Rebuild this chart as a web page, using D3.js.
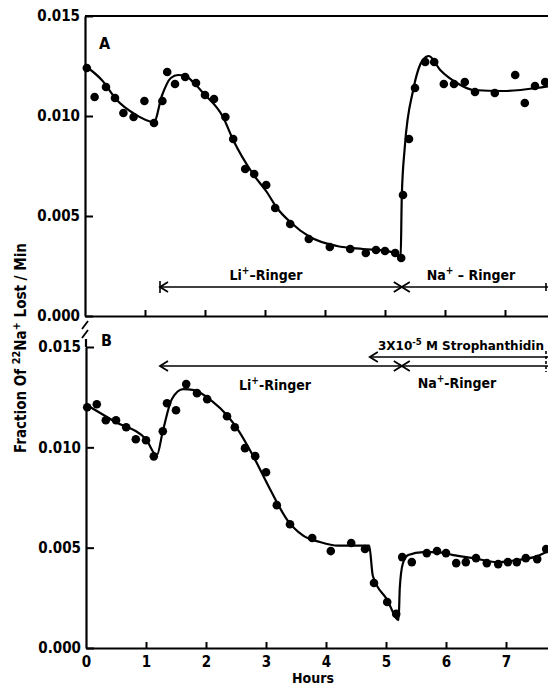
<!DOCTYPE html>
<html><head><meta charset="utf-8">
<script src="https://cdn.jsdelivr.net/npm/d3@7"></script>
<style>
html,body{margin:0;padding:0;background:#fff;}
svg text{font-family:"DejaVu Sans Condensed","Liberation Sans Narrow","DejaVu Sans",sans-serif;font-weight:bold;fill:#000;}
</style></head>
<body>
<script>
// ---- data ----
const yTicks = [0, 0.005, 0.010, 0.015];
const hourTicks = [0, 1, 2, 3, 4, 5, 6, 7];
// Panel A observed points [hours, fraction/min]
const pointsA = [[0.03,0.0124],[0.16,0.01095],[0.35,0.01145],[0.5,0.0109],[0.64,0.01015],[0.81,0.00995],[0.99,0.01075],[1.15,0.00965],[1.29,0.01075],[1.37,0.0122],[1.5,0.0116],[1.67,0.01195],[1.85,0.01165],[2.0,0.01105],[2.15,0.01085],[2.34,0.00995],[2.47,0.00885],[2.67,0.00735],[2.82,0.0071],[3.02,0.00655],[3.17,0.0054],[3.42,0.0046],[3.73,0.00385],[4.08,0.00345],[4.42,0.00335],[4.68,0.00315],[4.85,0.0033],[5.0,0.00325],[5.17,0.00315],[5.27,0.0029],[5.3,0.00605],[5.4,0.00885],[5.5,0.0114],[5.67,0.0127],[5.82,0.0127],[5.98,0.0116],[6.15,0.0116],[6.33,0.0117],[6.5,0.0112],[6.83,0.01115],[7.17,0.01205],[7.33,0.01065],[7.5,0.0115],[7.67,0.0117]];
// Panel A fitted curve
const curveA = [[0.03,0.01245],[0.28,0.0118],[0.53,0.0108],[0.8,0.01015],[1.15,0.0097],[1.28,0.0110],[1.43,0.0119],[1.55,0.01205],[1.68,0.0120],[1.8,0.0117],[1.97,0.01115],[2.3,0.00995],[2.47,0.0088],[2.8,0.0071],[3.03,0.0062],[3.2,0.0054],[3.42,0.0047],[3.75,0.00395],[4.2,0.0035],[4.63,0.00335],[5.03,0.00325],[5.2,0.0031],[5.26,0.0028],[5.28,0.006],[5.33,0.00845],[5.47,0.0113],[5.63,0.0128],[5.73,0.0130],[5.92,0.0123],[6.2,0.01165],[6.47,0.0113],[6.97,0.01125],[7.53,0.0114],[7.75,0.0115]];
// Panel B observed points
const pointsB = [[0.02,0.0120],[0.18,0.01215],[0.33,0.01135],[0.5,0.01135],[0.67,0.011],[0.83,0.0104],[1.0,0.01035],[1.13,0.00955],[1.28,0.0108],[1.35,0.0122],[1.5,0.01185],[1.67,0.01315],[1.85,0.0127],[2.02,0.0124],[2.35,0.01155],[2.48,0.011],[2.65,0.00996],[2.82,0.00956],[3.0,0.00876],[3.18,0.00712],[3.4,0.00617],[3.77,0.00548],[4.08,0.00483],[4.42,0.00523],[4.65,0.00493],[4.8,0.00324],[5.02,0.00229],[5.17,0.0017],[5.27,0.00453],[5.43,0.00428],[5.68,0.00473],[5.85,0.00483],[6.0,0.00473],[6.17,0.00423],[6.33,0.00428],[6.5,0.00448],[6.68,0.00423],[6.87,0.00418],[7.03,0.00428],[7.18,0.00428],[7.33,0.00448],[7.52,0.00443],[7.67,0.00493]];
// Panel B fitted curve
const curveB = [[0.02,0.0121],[0.5,0.01125],[1.0,0.0104],[1.18,0.0096],[1.28,0.0108],[1.43,0.0124],[1.62,0.0129],[1.8,0.01285],[2.1,0.0123],[2.35,0.0116],[2.55,0.0108],[2.78,0.0096],[3.07,0.0079],[3.35,0.0064],[3.62,0.0056],[3.9,0.00528],[4.2,0.0051],[4.72,0.0051],[4.78,0.0036],[5.02,0.0024],[5.21,0.0014],[5.23,0.0030],[5.28,0.0042],[5.37,0.00463],[5.62,0.00478],[5.85,0.00478],[6.12,0.00463],[6.45,0.00448],[6.85,0.00428],[7.18,0.00438],[7.52,0.00458],[7.75,0.0049]];
// Treatment periods (hours)
const liStart = 1.25, switchTime = 5.28, strophStart = 4.73;
// text pieces: [text, isSuperscript]
const titleParts = [["Fraction Of ",0],["22",1],["Na",0],["+",1],[" Lost / Min",0]];
const xTitle = "Hours";
const liPartsA = [["Li",0],["+",1],["–Ringer",0]];
const naPartsA = [["Na",0],["+",1],[" – Ringer",0]];
const liPartsB = [["Li",0],["+",1],["-Ringer",0]];
const naPartsB = [["Na",0],["+",1],["-Ringer",0]];
const strophParts = [["3X10",0],["-5",1],[" M Strophanthidin",0]];

// ---- drawing ----
const W = 548, H = 694;
const svg = d3.select("body").append("svg").attr("width", W).attr("height", H);

const xA = d3.scaleLinear().domain([0, 7.75]).range([85, 550]);
const xB = d3.scaleLinear().domain([0, 7.75]).range([86, 551]);
const yA = d3.scaleLinear().domain([0, 0.015]).range([316, 16]);
const yB = d3.scaleLinear().domain([0, 0.015]).range([648, 347]);

function styleAxis(g){
  g.select(".domain").attr("stroke","#000").attr("stroke-width",2.2);
  g.selectAll(".tick line").attr("stroke","#000").attr("stroke-width",2);
  g.selectAll(".tick text").style("font-size","15px").attr("fill","#000");
}

function richText(x, y, parts, size, anchor, transform){
  const t = svg.append("text").attr("text-anchor", anchor || "middle").style("font-size", size + "px");
  if (transform) t.attr("transform", transform); else t.attr("x", x).attr("y", y);
  let raised = false;
  parts.forEach(([s, sup]) => {
    const ts = t.append("tspan").text(s);
    if (sup && !raised){ ts.attr("dy", -0.42*size).style("font-size", (size*0.72)+"px"); raised = true; }
    else if (!sup && raised){ ts.attr("dy", 0.42*size); raised = false; }
  });
  return t;
}

function panel(x, y, pts, fit, showXLabels){
  const gy = svg.append("g").attr("transform",`translate(${x(0)},0)`)
    .call(d3.axisLeft(y).tickValues(yTicks).tickFormat(d3.format(".3f"))
      .tickSizeInner(-8).tickSizeOuter(0).tickPadding(5));
  styleAxis(gy);
  const gx = svg.append("g").attr("transform",`translate(0,${y(0)})`)
    .call(d3.axisBottom(x).tickValues(hourTicks)
      .tickFormat(showXLabels ? d3.format("d") : () => "")
      .tickSizeInner(-6).tickSizeOuter(0).tickPadding(8));
  styleAxis(gx);
  gx.selectAll(".tick").filter(d => d === 0).select("line").remove();
  svg.append("path").datum(fit)
    .attr("fill","none").attr("stroke","#000").attr("stroke-width",2.2)
    .attr("stroke-linejoin","round")
    .attr("d", d3.line().x(d => x(d[0])).y(d => y(d[1])).curve(d3.curveMonotoneX));
  svg.append("g").selectAll("circle").data(pts).join("circle")
    .attr("cx", d => x(d[0])).attr("cy", d => y(d[1])).attr("r", 4.3).attr("fill","#000");
}

panel(xA, yA, pointsA, curveA, false);
panel(xB, yB, pointsB, curveB, true);

// top border of panel A
svg.append("line").attr("x1", xA(0)).attr("x2", W).attr("y1", yA(0.015)).attr("y2", yA(0.015))
  .attr("stroke","#000").attr("stroke-width",2.2);
// extend B y-axis above its top tick, plus axis break marks
svg.append("line").attr("x1", xB(0)).attr("x2", xB(0)).attr("y1", yB(0.015)).attr("y2", 339)
  .attr("stroke","#000").attr("stroke-width",2.2);
[324, 333].forEach(yy => {
  svg.append("line").attr("x1", 82).attr("y1", yy + 5).attr("x2", 88).attr("y2", yy - 3)
    .attr("stroke","#000").attr("stroke-width",1.8);
});

// panel letters
svg.append("text").attr("x", 99).attr("y", 49).style("font-size","16px").text("A");
svg.append("text").attr("x", 101).attr("y", 346).style("font-size","16px").text("B");

// axis titles
richText(0, 0, titleParts, 15, "middle", "translate(26,348) rotate(-90)");
svg.append("text").attr("x", 313).attr("y", 683).attr("text-anchor","middle")
  .style("font-size","14px").text(xTitle);

// arrow helpers
function hline(x1, x2, yy){
  svg.append("line").attr("x1", x1).attr("x2", x2).attr("y1", yy).attr("y2", yy)
    .attr("stroke","#000").attr("stroke-width", 1.6);
}
function chevron(xTip, yy, dir){ // dir -1 points left, +1 points right
  svg.append("path").attr("d", `M${xTip - dir*8},${yy-5}L${xTip},${yy}L${xTip - dir*8},${yy+5}`)
    .attr("fill","none").attr("stroke","#000").attr("stroke-width",1.8);
}
function vbar(xx, y1, y2, dash){
  svg.append("line").attr("x1", xx).attr("x2", xx).attr("y1", y1).attr("y2", y2)
    .attr("stroke","#000").attr("stroke-width",1.6).attr("stroke-dasharray", dash || null);
}

// Panel A annotation
const ya = 287;
hline(xA(liStart), W, ya);
vbar(xA(liStart), ya-6, ya+6);
chevron(xA(liStart), ya, -1);
chevron(xA(switchTime), ya, 1);
chevron(xA(switchTime), ya, -1);
vbar(546, ya-4, ya+4);
richText(266, 280, liPartsA, 14);
richText(471, 280, naPartsA, 14);

// Panel B annotation
const yb = 366, ys = 357;
hline(xB(liStart)-1, W, yb);
chevron(xB(liStart)-1, yb, -1);
chevron(xB(switchTime)-1, yb, 1);
chevron(xB(switchTime)-1, yb, -1);
hline(xB(strophStart), W, ys);
chevron(xB(strophStart), ys, -1);
vbar(546, 351, 372, "3,2");
richText(275, 390, liPartsB, 14);
richText(457, 388, naPartsB, 14);
richText(461, 350, strophParts, 13).attr("textLength", 166).attr("lengthAdjust","spacingAndGlyphs");
</script>
</body></html>
